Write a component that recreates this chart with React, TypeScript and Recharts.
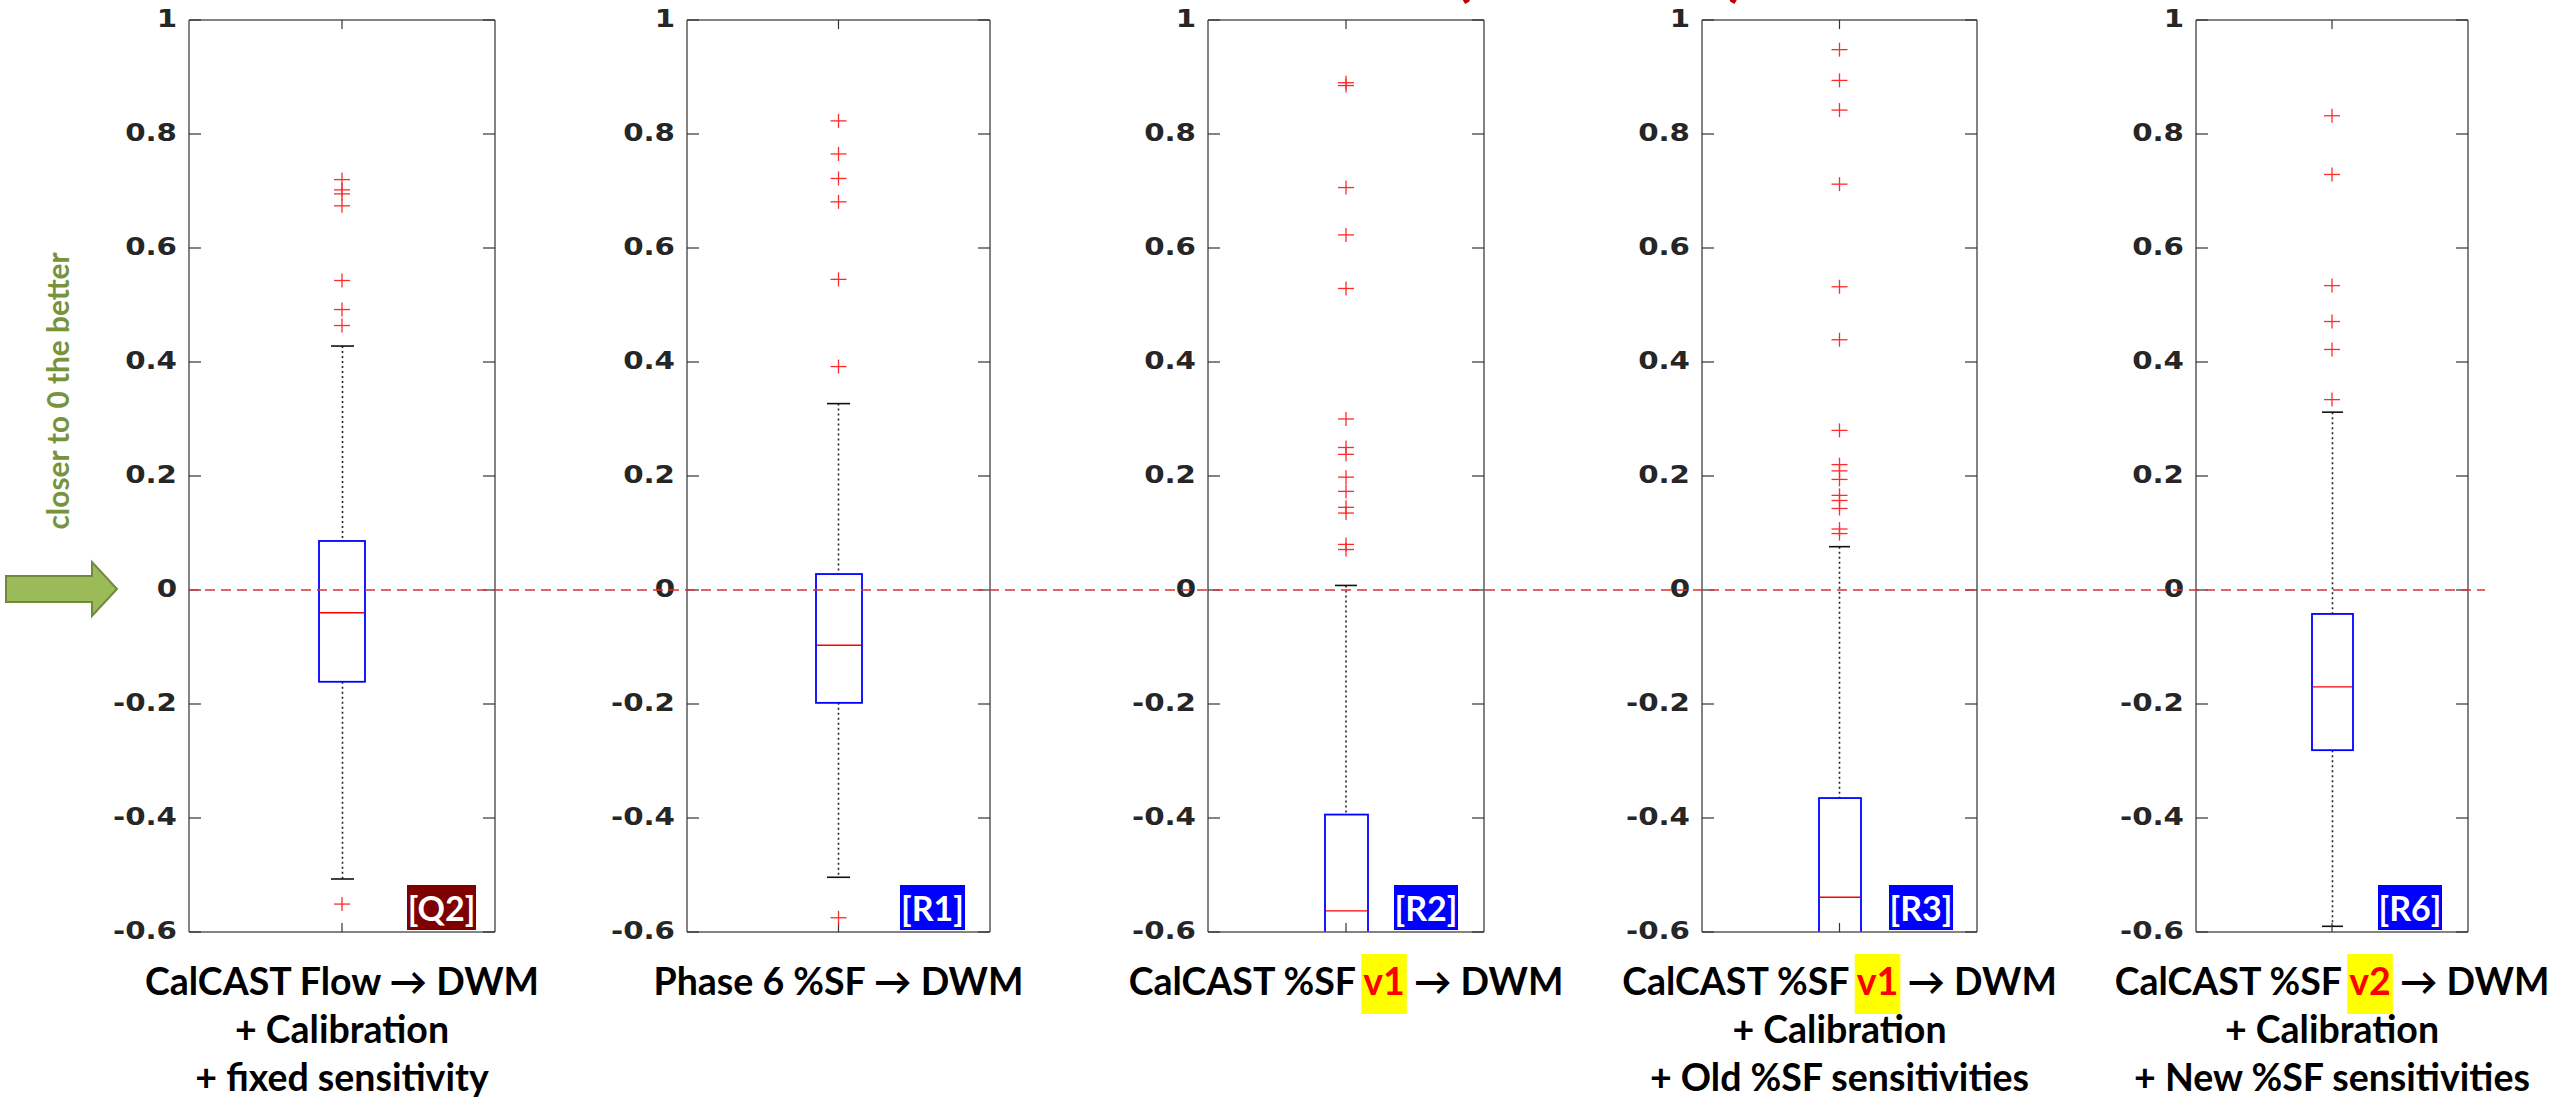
import React, { useLayoutEffect, useRef, useState } from "react";
import { ComposedChart, Bar, XAxis, YAxis, ReferenceDot, ReferenceLine } from "recharts";

// ── data ────────────────────────────────────────────────────────────
const runIds = ["Q2", "R1", "R2", "R3", "R6"];

// [lower whisker, q1, median, q3, upper whisker]
const q2Stats = [-0.507, -0.161, -0.04, 0.086, 0.428];
const r1Stats = [-0.504, -0.198, -0.097, 0.028, 0.327];
const r2Stats = [-1.0, -0.75, -0.563, -0.394, 0.008];
const r3Stats = [-1.0, -0.74, -0.539, -0.365, 0.076];
const r6Stats = [-0.59, -0.281, -0.17, -0.042, 0.312];

const q2Outliers = [0.72, 0.702, 0.695, 0.674, 0.543, 0.492, 0.464, -0.551];
const r1Outliers = [0.823, 0.765, 0.722, 0.681, 0.545, 0.392, -0.575];
const r2Outliers = [0.89, 0.885, 0.706, 0.623, 0.529, 0.3, 0.25, 0.238, 0.198, 0.173, 0.145, 0.135, 0.08, 0.071];
const r3Outliers = [0.948, 0.894, 0.842, 0.712, 0.532, 0.439, 0.28, 0.22, 0.209, 0.194, 0.166, 0.157, 0.143, 0.107, 0.099];
const r6Outliers = [0.832, 0.729, 0.534, 0.471, 0.422, 0.334];

const q2Label = ["CalCAST Flow → DWM", "+ Calibration", "+ fixed sensitivity"];
const r1Label = ["Phase 6 %SF → DWM"];
const r2Label = ["CalCAST %SF v1 → DWM"];
const r3Label = ["CalCAST %SF v1 → DWM", "+ Calibration", "+ Old %SF sensitivities"];
const r6Label = ["CalCAST %SF v2 → DWM", "+ Calibration", "+ New %SF sensitivities"];
const versionTags = [null, null, "v1", "v1", "v2"];

const yTicks = [-0.6, -0.4, -0.2, 0, 0.2, 0.4, 0.6, 0.8, 1];
const yDomain: [number, number] = [-0.6, 1];

// ── layout ──────────────────────────────────────────────────────────
const W = 2554;
const H = 1099;
const TOP = 20;
const BOTTOM = 932;
const PAD = 180;
const FRAME = "#5a5a5a";
const TICK = "#333";

const panels = [
  { left: 189, right: 495, boxW: 46, badgeX: 407, badgeW: 69, badgeBg: "#7f0000" },
  { left: 687, right: 990, boxW: 46, badgeX: 900, badgeW: 65, badgeBg: "#0000ff" },
  { left: 1208, right: 1484, boxW: 43, badgeX: 1394, badgeW: 64, badgeBg: "#0000ff" },
  { left: 1702, right: 1977, boxW: 42, badgeX: 1889, badgeW: 64, badgeBg: "#0000ff" },
  { left: 2196, right: 2468, boxW: 41, badgeX: 2378, badgeW: 64, badgeBg: "#0000ff" },
];

const allStats = [q2Stats, r1Stats, r2Stats, r3Stats, r6Stats];
const allOutliers = [q2Outliers, r1Outliers, r2Outliers, r3Outliers, r6Outliers];
const allLabels = [q2Label, r1Label, r2Label, r3Label, r6Label];

const LABEL_FONT: React.CSSProperties = {
  fontFamily: "Lato, 'DejaVu Sans', sans-serif",
  fontWeight: 700,
  fontSize: 37.5,
};
const LABEL_BASE = 995;
const LABEL_STEP = 48;

const NoTick = () => null;

// bold, slightly stretched y labels like the MATLAB export
const YTick = (p: any) => (
  <text
    transform={`translate(${p.x},${p.y}) scale(1.22,1)`}
    textAnchor="end"
    dy="0.3em"
    fill="#262626"
    style={{ fontFamily: "'DejaVu Sans', sans-serif", fontWeight: 700, fontSize: 24 }}
  >
    {String(p.payload.value)}
  </text>
);

// box outline + median, positioned from the bar's [q1, q3] extent
const BoxShape = (p: any) => {
  const { x, y, width, height, payload } = p;
  const top = Math.min(y, y + height);
  const bot = Math.max(y, y + height);
  const medY = top + ((bot - top) * (payload.q3 - payload.med)) / (payload.q3 - payload.q1);
  return (
    <g>
      <rect x={x} y={top} width={width} height={bot - top} fill="none" stroke="#0000ff" strokeWidth={1.8} />
      <line x1={x + 1} x2={x + width - 1} y1={medY} y2={medY} stroke="#ff0000" strokeWidth={1.4} />
    </g>
  );
};

// dotted whiskers with caps, positioned from the bar's [lo, hi] extent
const WhiskerShape = (p: any) => {
  const { x, y, width, height, payload } = p;
  const top = Math.min(y, y + height);
  const bot = Math.max(y, y + height);
  const at = (v: number) => top + ((bot - top) * (payload.hi - v)) / (payload.hi - payload.lo);
  const cx = x + width / 2;
  return (
    <g>
      <line x1={cx} x2={cx} y1={at(payload.hi)} y2={at(payload.q3)} stroke="#222" strokeWidth={1.6} strokeDasharray="2 3" />
      <line x1={cx} x2={cx} y1={at(payload.q1)} y2={at(payload.lo)} stroke="#222" strokeWidth={1.6} strokeDasharray="2 3" />
      <line x1={x} x2={x + width} y1={at(payload.hi)} y2={at(payload.hi)} stroke="#111" strokeWidth={1.6} />
      <line x1={x} x2={x + width} y1={at(payload.lo)} y2={at(payload.lo)} stroke="#111" strokeWidth={1.6} />
    </g>
  );
};

const Plus = (p: any) => (
  <g stroke="#ff2a2a" strokeWidth={1.3}>
    <line x1={p.cx - 8} x2={p.cx + 8} y1={p.cy} y2={p.cy} />
    <line x1={p.cx} x2={p.cx} y1={p.cy - 7} y2={p.cy + 7} />
  </g>
);

function LabelLine({ x, y, text, tag }: { x: number; y: number; text: string; tag?: string | null }) {
  const ref = useRef<SVGTextElement>(null);
  const [hl, setHl] = useState<[number, number] | null>(null);
  const i = tag ? text.indexOf(tag) : -1;

  useLayoutEffect(() => {
    if (i < 0 || !ref.current || !tag) return;
    const el = ref.current;
    const x0 = el.getStartPositionOfChar(i).x;
    const x1 = el.getEndPositionOfChar(i + tag.length - 1).x;
    setHl([x0, x1]);
  }, [text, tag, x, y]);

  return (
    <g>
      {hl && <rect x={hl[0] - 2} y={y - 41} width={hl[1] - hl[0] + 4} height={60} fill="#ffff00" />}
      <text ref={ref} x={x} y={y} textAnchor="middle" fill="#000" style={LABEL_FONT}>
        {i < 0 || !tag ? (
          text
        ) : (
          <>
            <tspan>{text.slice(0, i)}</tspan>
            <tspan fill="#ff0000">{tag}</tspan>
            <tspan>{text.slice(i + tag.length)}</tspan>
          </>
        )}
      </text>
    </g>
  );
}

// category label under each panel, centred on the category tick
function CatTick(p: any) {
  const { x, lines, tag } = p;
  return (
    <g>
      {lines.map((ln: string, k: number) => (
        <LabelLine key={k} x={x} y={LABEL_BASE + k * LABEL_STEP} text={ln} tag={k === 0 ? tag : null} />
      ))}
    </g>
  );
}

function Panel({ idx }: { idx: number }) {
  const id = runIds[idx];
  const { left, right, boxW, badgeX, badgeW, badgeBg } = panels[idx];
  const [lo, q1, med, q3, hi] = allStats[idx];
  const data = [{ name: id, box: [q1, q3], whisk: [lo, hi], lo, q1, med, q3, hi }];
  const w = right - left + PAD * 2;
  const axisLine = { stroke: FRAME, strokeWidth: 1.5 };
  const tickLine = { stroke: TICK, strokeWidth: 1.2 };

  // axes need a non-zero size to be drawn, so they get 1px and the margins give it back
  return (
    <div style={{ position: "absolute", left: left - PAD, top: 0, width: w, height: H }}>
      <ComposedChart width={w} height={H} data={data} margin={{ top: TOP - 1, right: PAD - 1, bottom: H - BOTTOM - 1, left: 0 }}>
        <XAxis
          xAxisId="bottom"
          dataKey="name"
          orientation="bottom"
          height={1}
          interval={0}
          tickSize={-9}
          tickMargin={9}
          axisLine={axisLine}
          tickLine={tickLine}
          tick={<CatTick lines={allLabels[idx]} tag={versionTags[idx]} />}
        />
        <XAxis
          xAxisId="top"
          dataKey="name"
          orientation="top"
          height={1}
          interval={0}
          tickSize={-9}
          axisLine={axisLine}
          tickLine={tickLine}
          tick={NoTick}
        />
        <YAxis
          yAxisId="left"
          width={PAD}
          domain={yDomain}
          ticks={yTicks}
          interval={0}
          allowDataOverflow
          tickSize={-12}
          tickMargin={24}
          axisLine={axisLine}
          tickLine={tickLine}
          tick={YTick}
        />
        <YAxis
          yAxisId="right"
          orientation="right"
          width={1}
          domain={yDomain}
          ticks={yTicks}
          interval={0}
          allowDataOverflow
          tickSize={-12}
          axisLine={axisLine}
          tickLine={tickLine}
          tick={NoTick}
        />
        <Bar xAxisId="top" yAxisId="left" dataKey="whisk" barSize={Math.round(boxW / 2)} shape={WhiskerShape} isAnimationActive={false} />
        <Bar xAxisId="bottom" yAxisId="left" dataKey="box" barSize={boxW} shape={BoxShape} isAnimationActive={false} />
        {allOutliers[idx].map((v, k) => (
          <ReferenceDot key={k} xAxisId="bottom" yAxisId="left" x={id} y={v} shape={Plus} />
        ))}
      </ComposedChart>
      <div
        style={{
          position: "absolute",
          left: badgeX - (left - PAD),
          top: 885,
          width: badgeW,
          height: 45,
          background: badgeBg,
          color: "#fff",
          fontFamily: "Lato, sans-serif",
          fontWeight: 700,
          fontSize: 34,
          lineHeight: "45px",
          textAlign: "center",
        }}
      >
        [{id}]
      </div>
    </div>
  );
}

export default function App() {
  return (
    <div style={{ position: "absolute", left: 0, top: 0, width: W, height: H, overflow: "hidden", background: "#fff" }}>
      {panels.map((_, i) => (
        <Panel key={runIds[i]} idx={i} />
      ))}

      {/* zero reference across all panels */}
      <div style={{ position: "absolute", left: 0, top: 0, pointerEvents: "none" }}>
        <ComposedChart width={W} height={H} data={[{ x: 0 }]} margin={{ top: TOP, right: W - 2485, bottom: H - BOTTOM, left: 189 }}>
          <XAxis dataKey="x" hide />
          <YAxis hide domain={yDomain} allowDataOverflow />
          <ReferenceLine y={0} stroke="#dc3232" strokeWidth={1.3} strokeDasharray="10 6" />
        </ComposedChart>
      </div>

      {/* arrow, side note, and the tail of the title above */}
      <svg width={W} height={H} style={{ position: "absolute", left: 0, top: 0, pointerEvents: "none" }}>
        <polygon
          points="6,576 92,576 92,562 117,589 92,616 92,602 6,602"
          fill="#9bbb59"
          stroke="#71893f"
          strokeWidth={2}
        />
        <text
          transform="translate(69,391) rotate(-90)"
          textAnchor="middle"
          fill="#77933c"
          textLength={277}
          lengthAdjust="spacingAndGlyphs"
          style={{ fontFamily: "Lato, sans-serif", fontWeight: 700, fontSize: 31 }}
        >
          closer to 0 the better
        </text>
        <text x={1454} y={-6} fill="#c00000" style={{ fontFamily: "Lato, sans-serif", fontWeight: 700, fontSize: 64 }}>
          (
        </text>
        <text x={1728} y={-6} fill="#c00000" style={{ fontFamily: "Lato, sans-serif", fontWeight: 700, fontSize: 64 }}>
          )
        </text>
      </svg>
    </div>
  );
}
